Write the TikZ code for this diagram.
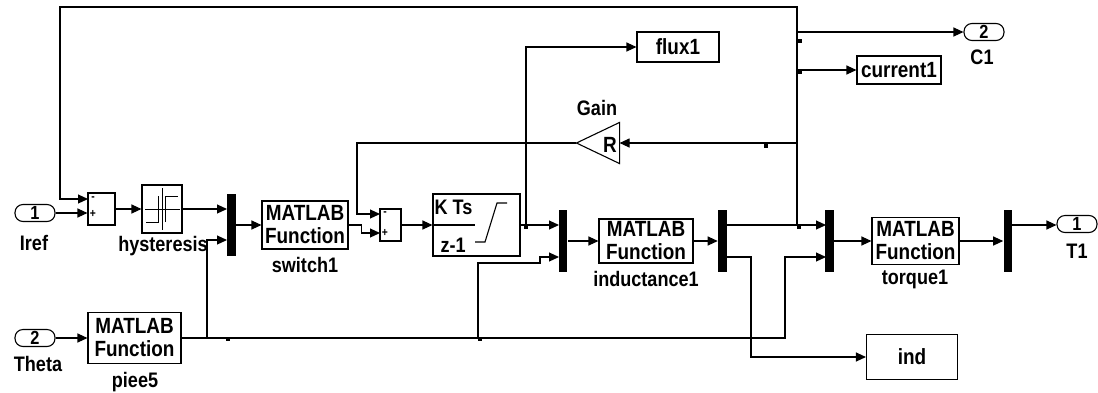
\documentclass[tikz,border=0pt]{standalone}
\usepackage{fontspec}
\setmainfont{Liberation Sans}[FakeStretch=0.86]
\usetikzlibrary{arrows.meta}
\tikzset{every picture/.style={>={Triangle[length=10pt,width=9pt]}}}

\begin{document}
\begin{tikzpicture}[x=1pt,y=-1pt,line width=1.1pt,
    blk/.style={draw,rectangle,inner sep=0pt,align=center,
      font=\bfseries\fontsize{22}{23}\selectfont},
    bar/.style={fill=black,minimum width=8.5pt,minimum height=62pt,inner sep=0pt},
    port/.style={draw,rounded corners=8pt,minimum width=40pt,minimum height=17pt,
      inner sep=0pt,font=\bfseries\fontsize{19}{19}\selectfont},
    lbl/.style={inner sep=0pt,font=\bfseries\fontsize{21}{21}\selectfont},
    sgn/.style={inner sep=0pt,font=\bfseries\fontsize{12}{12}\selectfont},
    dot/.style={fill=black,minimum size=3.5pt,inner sep=0pt}]
  \useasboundingbox (0,0) rectangle (1098,392);

  % inputs and left part
  \node[port] (in1) at (35,213) {1};
  \node[lbl] at (34,243) {Iref};
  \node[port] (in2) at (35,338) {2};
  \node[lbl] at (38,364) {Theta};
  \node[blk,minimum width=27pt,minimum height=32pt] (sum1) at (101.5,209) {};
  \node[sgn] at (93,199) {-};
  \node[sgn] at (93,214) {+};
  \node[blk,minimum width=40pt,minimum height=48pt] (hyst) at (162,209) {};
  \draw[line width=0.9pt] (145,209) -- (180,209) (162,188) -- (162,230)
    (146,222) -- (158,222) -- (158,196) (165,222) -- (165,196) -- (178,196);
  \node[lbl] at (163,246) {hysteresis};
  \node[bar] (mux1) at (231.5,225) {};
  \node[blk,minimum width=86pt,minimum height=48pt] (switch1) at (305,225) {MATLAB\\Function};
  \node[lbl] at (305,265) {switch1};
  \node[blk,minimum width=93pt,minimum height=51pt] (piee5) at (134.5,338) {MATLAB\\Function};
  \node[lbl] at (135,382) {piee5};

  % current loop
  \node[blk,minimum width=21pt,minimum height=32pt] (sum2) at (390.5,225) {};
  \node[sgn] at (385,214) {-};
  \node[sgn] at (385,233) {+};
  \node[blk,minimum width=87pt,minimum height=62pt] (integ) at (476.5,225) {};
  \node[lbl,anchor=west] at (434,207) {K Ts};
  \node[lbl,anchor=west] at (440,245) {z-1};
  \draw (integ.west) -- (475,225);
  \draw (475,242) -- (485,242) -- (497,203) -- (507,203);
  \node (gain) at (598,143) [minimum width=42pt,minimum height=40pt,inner sep=0pt] {};
  \draw (gain.north east) -- (gain.west) -- (gain.south east) -- cycle;
  \node[inner sep=0pt,font=\bfseries\fontsize{22}{22}\selectfont] at (610,145) {R};
  \node[lbl] at (597,108) {Gain};
  \node[blk,minimum width=82pt,minimum height=30pt] (flux1) at (678,47) {flux1};
  \node[blk,minimum width=84pt,minimum height=28pt] (cur1) at (899,70) {current1};
  \node[port] (c1) at (984,32) {2};
  \node[lbl] at (982,57) {C1};

  % right part
  \node[bar] (mux2) at (563,241) {};
  \node[blk,minimum width=94pt,minimum height=44pt] (ind1) at (646,241) {MATLAB\\Function};
  \node[lbl] at (646,279) {inductance1};
  \node[bar] (dmux2) at (722.5,241) {};
  \node[bar] (mux3) at (829.5,241) {};
  \node[blk,minimum width=87pt,minimum height=47pt] (torque1) at (915.5,241) {MATLAB\\Function};
  \node[lbl] at (915,279) {torque1};
  \node[bar] (dmux4) at (1008,241) {};
  \node[port] (t1) at (1077,224) {1};
  \node[lbl] at (1077,251) {T1};
  \node[blk,minimum width=91pt,minimum height=45pt] (ind) at (912,357) {ind};

  % ports on the bars and sums
  \coordinate (s1m) at (88,199);
  \coordinate (s2m) at (380,214);
  \coordinate (s2p) at (380,233);
  \coordinate (m1a) at (227,209);
  \coordinate (m1b) at (227,240);
  \coordinate (m2a) at (559,225);
  \coordinate (m2b) at (559,257);
  \coordinate (d2a) at (727,225);
  \coordinate (d2b) at (727,257);
  \coordinate (m3a) at (826,225);
  \coordinate (m3b) at (826,257);
  \coordinate (d4a) at (1012,225);
  \coordinate (j1) at (797,225);
  \coordinate (j2) at (526,225);
  \coordinate (j3) at (207,338);
  \coordinate (j4) at (478,338);
  \coordinate (jb) at (785,338);
  \coordinate (tl) at (60,7);
  \coordinate (g1) at (357,143);

  % signals
  \draw[->] (in1.east) -- (in1.east -| sum1.west);
  \draw[->] (sum1.east) -- (hyst.west);
  \draw[->] (hyst.east) -- (m1a);
  \draw[->] (mux1.east) -- (switch1.west);
  \draw[->] (switch1.east) -- ++(13,0) |- (s2p);
  \draw[->] (gain.west) -- (g1) |- (s2m);
  \draw[->] (sum2.east) -- (integ.west);
  \draw[->] (integ.east) -- (m2a);
  \draw[->] (j2) |- (flux1.west);
  \draw[->] (mux2.east) -- (ind1.west);
  \draw[->] (ind1.east) -- (dmux2.west);
  \draw[->] (d2a) -- (m3a);
  \draw[->] (j1) |- (tl) |- (s1m);
  \draw[->] (j1 |- c1) -- (c1.west);
  \draw[->] (j1 |- cur1) -- (cur1.west);
  \draw[->] (j1 |- gain) -- (gain.east);
  \draw[->] (d2b) -- ++(24,0) |- (ind.west);
  \draw[->] (mux3.east) -- (torque1.west);
  \draw[->] (torque1.east) -- (dmux4.west);
  \draw[->] (d4a) -- (d4a -| t1.west);
  \draw[->] (in2.east) -- (piee5.west);
  \draw[->] (piee5.east) -- (jb) |- (m3b);
  \draw[->] (j3) |- (m1b);
  \draw[->] (j4) -- (478,263) -- (540,263) |- (m2b);

  % branch marks
  \foreach \p in {(800,41),(800,72),(766,146),(799,227),(526,227),(228,339),(480,339)}
    \node[dot] at \p {};
\end{tikzpicture}
\end{document}
